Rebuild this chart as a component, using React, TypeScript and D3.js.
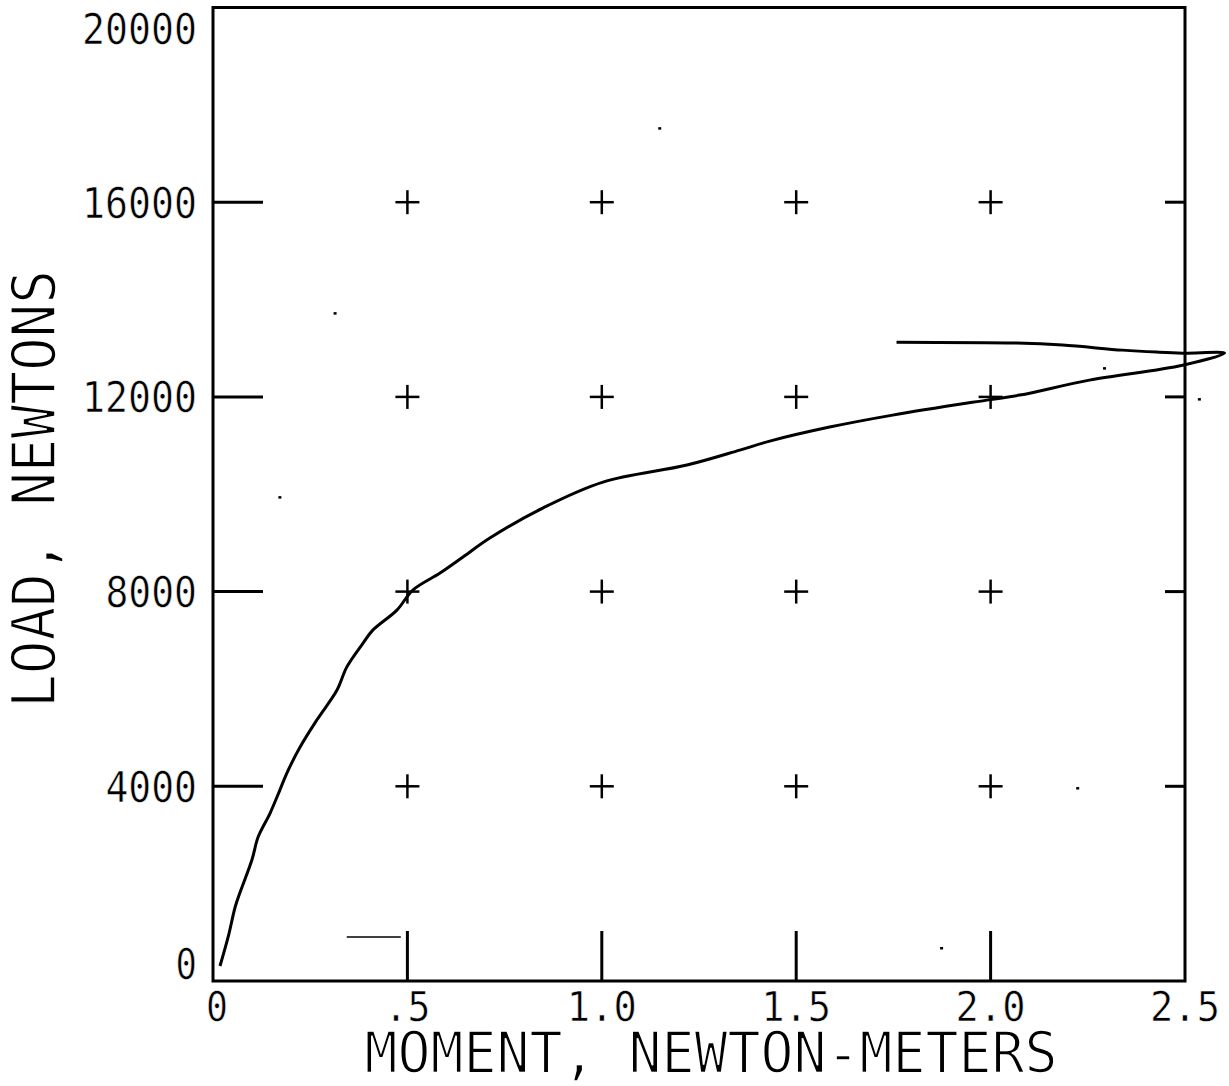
import React from "react";
import * as d3 from "d3";

// traced curve: moment (N-m) vs load (N), loading then the return branch
const moment = [
  0.018, 0.039, 0.057, 0.069, 0.1, 0.116, 0.147, 0.172, 0.19, 0.224, 0.267,
  0.319, 0.344, 0.386, 0.411, 0.473, 0.514, 0.584, 0.643, 0.712, 0.848, 1.003,
  1.219, 1.355, 1.432, 1.586, 1.748, 1.99, 2.075, 2.254, 2.494, 2.602, 2.494,
  2.427, 2.339, 2.185, 2.067, 1.758,
];
const load = [
  308, 904, 1520, 1808, 2485, 2958, 3451, 3923, 4272, 4806, 5361, 5977, 6449,
  6942, 7209, 7620, 8031, 8380, 8710, 9100, 9716, 10250, 10600, 10907, 11092,
  11380, 11626, 11934, 12037, 12345, 12652, 12899, 12899, 12920, 12961, 13064,
  13105, 13125,
];

const xTicks = [0, 0.5, 1.0, 1.5, 2.0, 2.5];
const xTickLabels = ["0", ".5", "1.0", "1.5", "2.0", "2.5"];
const yTicks = [0, 4000, 8000, 12000, 16000, 20000];
const yTickLabels = ["0", "4000", "8000", "12000", "16000", "20000"];
const gridX = [0.5, 1.0, 1.5, 2.0];
const gridY = [4000, 8000, 12000, 16000];

// stray plotter marks
const strayMoment = [0.344, 0.483];
const strayLoad = [904, 904];
const speckMoment = [1.149, 0.314, 0.172, 2.293, 2.537, 2.224, 1.874];
const speckLoad = [17521, 13721, 9941, 12591, 11955, 3964, 678];

const W = 1229;
const H = 1086;
const font = "'DejaVu Sans Mono', monospace";

export default function App() {
  const x = d3.scaleLinear().domain([0, 2.5]).range([213, 1185]);
  const y = d3.scaleLinear().domain([0, 20000]).range([981, 7.5]);

  const pts = moment.map((m, i) => [m, load[i]] as [number, number]);
  const line = d3
    .line<[number, number]>()
    .x((d) => x(d[0]))
    .y((d) => y(d[1]))
    .curve(d3.curveCatmullRom.alpha(0.5));

  // white outline eats into the glyphs a bit, closer to the plotter pen
  const thinBig = { stroke: "#fff", strokeWidth: 1.6 } as const;
  const thinSmall = { stroke: "#fff", strokeWidth: 0.6 } as const;

  return (
    <svg
      width={W}
      height={H}
      style={{ position: "absolute", left: 0, top: 0, background: "#fff" }}
    >
      <rect x={0} y={0} width={W} height={H} fill="#fff" />

      {/* frame */}
      <rect
        x={x(0)}
        y={y(20000)}
        width={x(2.5) - x(0)}
        height={y(0) - y(20000)}
        fill="none"
        stroke="#000"
        strokeWidth={3}
      />

      {/* ticks */}
      {gridY.map((v) => (
        <g key={"yt" + v} stroke="#000" strokeWidth={3}>
          <line x1={x(0)} x2={x(0) + 50} y1={y(v)} y2={y(v)} />
          <line x1={x(2.5) - 20} x2={x(2.5)} y1={y(v)} y2={y(v)} />
        </g>
      ))}
      {gridX.map((v) => (
        <line
          key={"xt" + v}
          x1={x(v)}
          x2={x(v)}
          y1={y(0)}
          y2={y(0) - 50}
          stroke="#000"
          strokeWidth={3}
        />
      ))}

      {/* grid crosses */}
      {gridX.map((gx) =>
        gridY.map((gy) => (
          <g key={gx + "_" + gy} stroke="#000" strokeWidth={2.5}>
            <line x1={x(gx) - 12} x2={x(gx) + 12} y1={y(gy)} y2={y(gy)} />
            <line x1={x(gx)} x2={x(gx)} y1={y(gy) - 12} y2={y(gy) + 12} />
          </g>
        ))
      )}

      {/* curve */}
      <path
        d={line(pts) || ""}
        fill="none"
        stroke="#000"
        strokeWidth={3}
        strokeLinejoin="round"
      />

      <line
        x1={x(strayMoment[0])}
        x2={x(strayMoment[1])}
        y1={y(strayLoad[0])}
        y2={y(strayLoad[1])}
        stroke="#000"
        strokeWidth={1.5}
      />
      {speckMoment.map((m, i) => (
        <rect
          key={"s" + i}
          x={x(m) - 1.5}
          y={y(speckLoad[i]) - 1}
          width={3}
          height={2.5}
          fill="#000"
        />
      ))}

      {/* y tick labels */}
      {yTicks.map((v, i) => {
        const cy = Math.min(Math.max(y(v), 28), 963);
        const s = yTickLabels[i];
        return (
          <text
            key={"yl" + v}
            x={197}
            y={cy + 15.5}
            textAnchor="end"
            fontFamily={font}
            fontSize={42}
            textLength={s.length * 23.4 - 2}
            lengthAdjust="spacingAndGlyphs"
            fill="#000"
            {...thinSmall}
          >
            {s}
          </text>
        );
      })}

      {/* x tick labels */}
      {xTicks.map((v, i) => {
        const s = xTickLabels[i];
        const cx = v === 0 ? x(v) + 4 : x(v);
        return (
          <text
            key={"xl" + v}
            x={cx}
            y={1021}
            textAnchor="middle"
            fontFamily={font}
            fontSize={40}
            textLength={s.length * 24 - 2}
            lengthAdjust="spacingAndGlyphs"
            fill="#000"
            {...thinSmall}
          >
            {s}
          </text>
        );
      })}

      {/* axis titles */}
      <text
        x={711}
        y={1073}
        textAnchor="middle"
        fontFamily={font}
        fontSize={57}
        textLength={693}
        lengthAdjust="spacingAndGlyphs"
        fill="#000"
        {...thinBig}
      >
        MOMENT, NEWTON-METERS
      </text>
      <text
        transform="translate(55,489) rotate(-90)"
        textAnchor="middle"
        fontFamily={font}
        fontSize={60}
        textLength={438}
        lengthAdjust="spacingAndGlyphs"
        fill="#000"
        {...thinBig}
      >
        LOAD, NEWTONS
      </text>
    </svg>
  );
}
